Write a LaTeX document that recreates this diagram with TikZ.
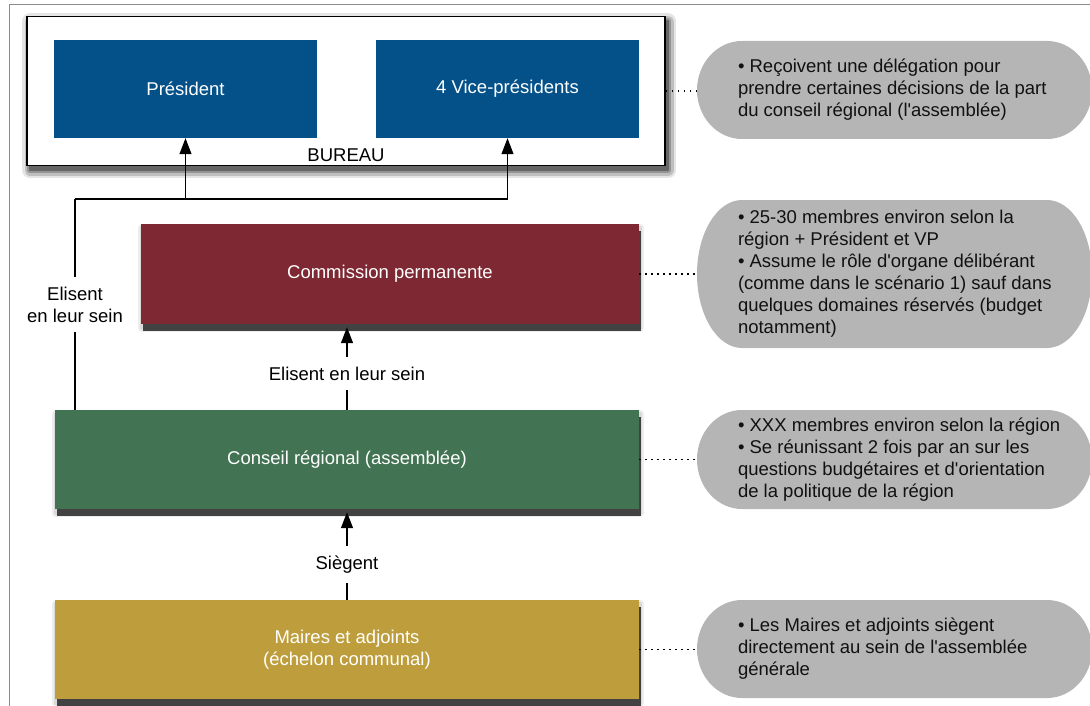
\documentclass[tikz,border=0pt]{standalone}
\usepackage{fontspec}
\setmainfont{Liberation Sans}[Ligatures=TeXOff]
\usetikzlibrary{arrows.meta,calc}

\definecolor{boxblue}{RGB}{4,81,138}
\definecolor{boxred}{RGB}{125,40,50}
\definecolor{boxgreen}{RGB}{66,115,82}
\definecolor{boxgold}{RGB}{190,158,60}
\definecolor{pillgray}{RGB}{181,181,181}
\definecolor{bandgray}{RGB}{66,66,66}
\definecolor{framegray}{RGB}{140,140,140}
\definecolor{inkblack}{RGB}{17,17,17}

\tikzset{
  % one ring of a soft shadow: colour, ring width, x shift, y shift
  shadowring/.style n args={4}{preaction={draw=#1, fill=#1, line width=#2,
      line join=round, transform canvas={shift={(#3,#4)}}}},
  base/.style={font=\fontsize{18.5}{22}\selectfont},
  level/.style={base, text=white, align=center, inner sep=0pt,
    minimum width=584pt, minimum height=99pt, fill=#1,
    shadowring={black!7}{8pt}{1pt}{-4pt},
    shadowring={black!15}{4pt}{1pt}{-4pt},
    preaction={fill=bandgray, transform canvas={shift={(1.5pt,-6.5pt)}}}},
  officebox/.style={base, text=white, fill=boxblue, inner sep=0pt,
    minimum width=263pt, minimum height=98pt},
  bureaubox/.style={draw=black, line width=1.5pt, fill=white,
    minimum width=638pt, minimum height=149pt,
    shadowring={black!10}{16pt}{3pt}{-5pt},
    shadowring={black!25}{11pt}{3pt}{-5pt},
    shadowring={black!42}{6pt}{3pt}{-5pt},
    shadowring={black!60}{2pt}{3pt}{-5pt}},
  pill/.style={inner sep=0pt, minimum width=395pt, minimum height=#1,
    path picture={
      \fill[pillgray]
        let \p1=(path picture bounding box.south west),
            \p2=(path picture bounding box.north east),
            \n1={(\y2-\y1)/2} in
        (\x1+45pt,\y1) -- (\x2-45pt,\y1)
        arc[start angle=-90, end angle=90, x radius=45pt, y radius=\n1]
        -- (\x1+45pt,\y2)
        arc[start angle=90, end angle=270, x radius=45pt, y radius=\n1]
        -- cycle;}},
  pilltext/.style={base, text=inkblack, align=left, inner sep=0pt, anchor=west},
  lbl/.style={base, text=black, fill=white, align=center, inner xsep=2pt, inner ysep=10pt},
  conn/.style={line width=1.2pt, draw=black},
  arr/.style={conn, -{Triangle[length=16pt, width=12pt]}},
  dots/.style={line width=1.4pt, dash pattern=on 1.4pt off 4.6pt}
}

\begin{document}
\begin{tikzpicture}[x=1pt, y=-1pt]
\useasboundingbox (0,0) rectangle (1090,706);
\clip (0,0) rectangle (1090,706);

% page frame
\draw[framegray, line width=1pt] (9,5) rectangle (1120,740);

% executive bureau
\node[bureaubox] (bureau) at (346,91) {};
\node[officebox] (pres) at (185.5,89) {Président};
\node[officebox] (vp) at (507.5,89) {4 Vice-présidents};
\node[base] (bureaulbl) at (346,155) {BUREAU};

% assemblies
\node[level=boxred, minimum width=498pt, minimum height=100pt] (cp) at (390,274) {Commission permanente};
\node[level=boxgreen] (cr) at (347,459.5) {Conseil régional (assemblée)};
\node[level=boxgold] (ma) at (347,649.5) {Maires et adjoints\\(échelon communal)};

% notes
\node[pill=98pt] (p1) at (894.5,90) {};
\node[pill=148pt] (p2) at (894.5,274) {};
\node[pill=99pt] (p3) at (894.5,459.5) {};
\node[pill=98pt] (p4) at (894.5,649) {};

\node[pilltext] (t1) at ([xshift=41pt]p1.west) {• Reçoivent une délégation pour\\prendre certaines décisions de la part\\du conseil régional (l'assemblée)};
\node[pilltext] (t2) at ([xshift=41pt]p2.west) {• 25-30 membres environ selon la\\région + Président et VP\\• Assume le rôle d'organe délibérant\\(comme dans le scénario 1) sauf dans\\quelques domaines réservés (budget\\notamment)};
\node[pilltext] (t3) at ([xshift=41pt]p3.west) {• XXX membres environ selon la région\\• Se réunissant 2 fois par an sur les\\questions budgétaires et d'orientation\\de la politique de la région};
\node[pilltext] (t4) at ([xshift=41pt]p4.west) {• Les Maires et adjoints siègent\\directement au sein de l'assemblée\\générale};

% dotted leaders
\draw[dots] (bureau.east) -- (bureau.east -| p1.west);
\draw[dots] (cp.east) -- (cp.east -| p2.west);
\draw[dots] (cr.east) -- (cr.east -| p3.west);
\draw[dots] (ma.east) -- (ma.east -| p4.west);

% election links
\coordinate (jl) at (75,199);
\draw[conn] (cr.north -| jl) -- node[lbl] {Elisent\\en leur sein} (jl);
\draw[arr] (jl) -| (pres.south);
\draw[arr] (jl) -| (vp.south);

\coordinate (cptip) at ($(cr.north |- cp.south)+(0,3)$);
\draw[arr] (cr.north) -- node[lbl, pos=0.44] {Elisent en leur sein} (cptip);

\coordinate (crtip) at ($(cr.south)+(0,3)$);
\draw[arr] (ma.north) -- node[lbl, pos=0.40] {Siègent} (crtip);
\end{tikzpicture}
\end{document}
